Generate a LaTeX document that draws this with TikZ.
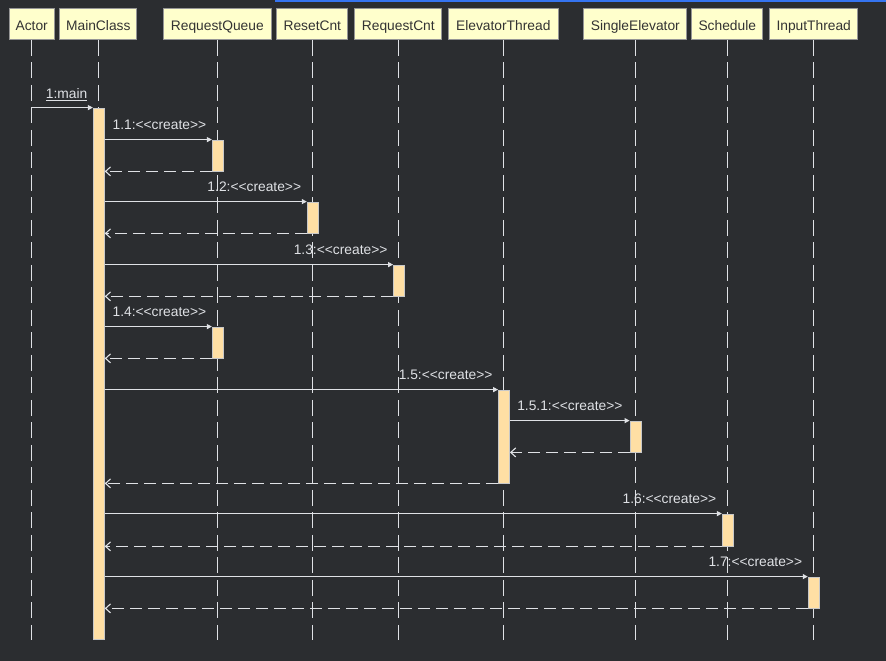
\documentclass[tikz,border=0pt]{standalone}
\usepackage{fontspec}
\setmainfont{Liberation Sans}[Ligatures=TeXOff]
\usetikzlibrary{arrows.meta}
\definecolor{bgdark}{RGB}{43,45,48}
\definecolor{linegray}{RGB}{223,225,229}
\definecolor{headfill}{RGB}{255,255,204}
\definecolor{headline}{RGB}{150,150,150}
\definecolor{headtext}{RGB}{51,51,51}
\definecolor{barfill}{RGB}{255,223,164}
\definecolor{barline}{RGB}{200,200,200}
\definecolor{tabblue}{RGB}{53,116,240}
\tikzset{
  head/.style={draw=headline, fill=headfill, text=headtext, minimum height=31pt, inner sep=0pt,
    text height=14.4pt, text depth=0pt, line width=1pt},
  life/.style={draw=linegray, line width=1.1pt, dash pattern=on 16pt off 6.5pt},
  actbar/.style={draw=barline, fill=barfill, line width=0.8pt, minimum width=11pt, inner sep=0pt},
  msg/.style={draw=linegray, line width=1.1pt, -{Triangle[length=5pt,width=5pt]}},
  ret/.style={draw=linegray, line width=1.1pt, dash pattern=on 12pt off 6pt, -{Straight Barb[length=5pt,width=9pt]}},
  lbl/.style={text=linegray, anchor=base east, inner sep=0pt},
}
\begin{document}
\begin{tikzpicture}[x=1pt, y=-1pt, font=\fontsize{13.8}{16}\selectfont]
  % fondo
  \fill[bgdark] (0,0) rectangle (886,661);
  \useasboundingbox (0,0) rectangle (886,661);
  \fill[tabblue] (275,0) rectangle (886,2);
  \coordinate (bottom) at (0,640);
  % cabeceras y lineas de vida
  \foreach \nm/\x/\w/\txt in {actor/31.7/45/Actor, main/98.3/77/MainClass,
      queue/217.3/108/RequestQueue, reset/312.3/71/ResetCnt, reqcnt/398.3/87/RequestCnt,
      elev/503.3/110/ElevatorThread, single/635.3/103/SingleElevator,
      sched/727.3/71/Schedule, input/813.7/88/InputThread} {
    \node[head, minimum width=\w pt] (\nm) at (\x,23.8) {\txt};
    \draw[life] (\nm.south) -- (\nm.south |- bottom);
  }
  % barras de activacion
  \node[actbar, minimum height=531pt] (mainbar) at (98.8,373.5) {};
  \node[actbar, minimum height=31pt] (queuebar1) at (217.8,155.5) {};
  \node[actbar, minimum height=31pt] (resetbar) at (312.7,217.5) {};
  \node[actbar, minimum height=31pt] (reqcntbar) at (399,280.5) {};
  \node[actbar, minimum height=31pt] (queuebar2) at (217.8,342.5) {};
  \node[actbar, minimum height=93pt] (elevbar) at (504,436.5) {};
  \node[actbar, minimum height=31pt] (singlebar) at (635.5,436.5) {};
  \node[actbar, minimum height=32pt] (schedbar) at (727.8,530) {};
  \node[actbar, minimum height=31pt] (inputbar) at (813.7,592.5) {};
  % 1:main
  \draw[msg] (actor.south |- mainbar.north) -- (mainbar.north west);
  \node[lbl] (lmain) at ([xshift=-5.3pt,yshift=9pt]mainbar.north west) {\underline{1:main}};
  % mensajes de creacion
  \draw[msg] (mainbar.east |- queuebar1.north) -- (queuebar1.north west);
  \draw[ret] (queuebar1.south west) -- (queuebar1.south west -| mainbar.east);
  \node[lbl] (l11) at ([xshift=-5.5pt,yshift=10pt]queuebar1.north west) {1.1:<<create>>};
  \draw[msg] (mainbar.east |- resetbar.north) -- (resetbar.north west);
  \draw[ret] (resetbar.south west) -- (resetbar.south west -| mainbar.east);
  \node[lbl] (l12) at ([xshift=-5.5pt,yshift=10pt]resetbar.north west) {1.2:<<create>>};
  \draw[msg] (mainbar.east |- reqcntbar.north) -- (reqcntbar.north west);
  \draw[ret] (reqcntbar.south west) -- (reqcntbar.south west -| mainbar.east);
  \node[lbl] (l13) at ([xshift=-5.5pt,yshift=10pt]reqcntbar.north west) {1.3:<<create>>};
  \draw[msg] (mainbar.east |- queuebar2.north) -- (queuebar2.north west);
  \draw[ret] (queuebar2.south west) -- (queuebar2.south west -| mainbar.east);
  \node[lbl] (l14) at ([xshift=-5.5pt,yshift=10pt]queuebar2.north west) {1.4:<<create>>};
  \draw[msg] (mainbar.east |- elevbar.north) -- (elevbar.north west);
  \draw[ret] (elevbar.south west) -- (elevbar.south west -| mainbar.east);
  \node[lbl] (l15) at ([xshift=-5.5pt,yshift=10pt]elevbar.north west) {1.5:<<create>>};
  \draw[msg] (elevbar.east |- singlebar.north) -- (singlebar.north west);
  \draw[ret] (singlebar.south west) -- (singlebar.south west -| elevbar.east);
  \node[lbl] (l151) at ([xshift=-7pt,yshift=10pt]singlebar.north west) {1.5.1:<<create>>};
  \draw[msg] (mainbar.east |- schedbar.north) -- (schedbar.north west);
  \draw[ret] (schedbar.south west) -- (schedbar.south west -| mainbar.east);
  \node[lbl] (l16) at ([xshift=-5.5pt,yshift=10pt]schedbar.north west) {1.6:<<create>>};
  \draw[msg] (mainbar.east |- inputbar.north) -- (inputbar.north west);
  \draw[ret] (inputbar.south west) -- (inputbar.south west -| mainbar.east);
  \node[lbl] (l17) at ([xshift=-5.5pt,yshift=10pt]inputbar.north west) {1.7:<<create>>};
\end{tikzpicture}
\end{document}
